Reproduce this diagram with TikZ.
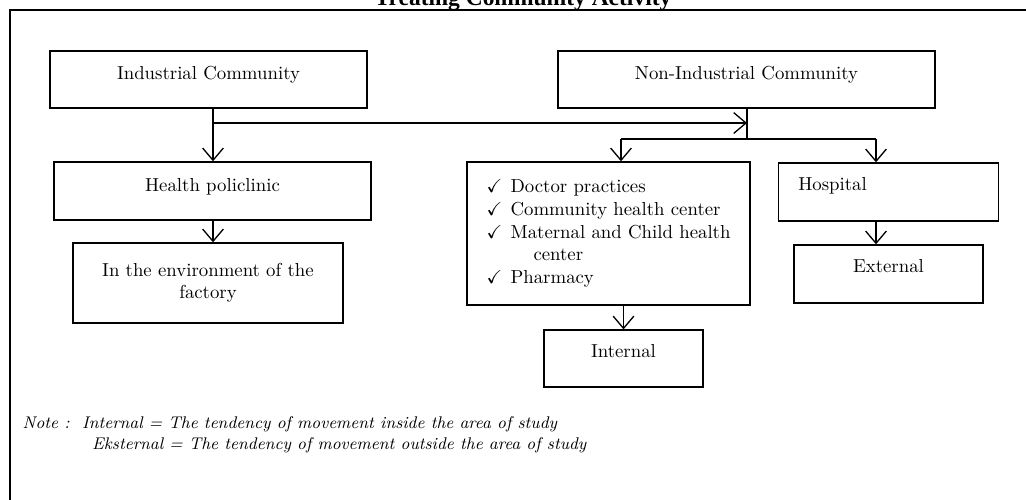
\documentclass[tikz,border=0pt]{standalone}
\usepackage{fontspec}
\usepackage{amssymb}
\newfontfamily\titlefont{Liberation Serif}
\usetikzlibrary{arrows.meta}

\tikzstyle{block} = [rectangle, draw, line width=0.7pt, text centered, inner sep=0pt]
\tikzstyle{oneline} = [text height=7pt, text depth=7pt]
\tikzstyle{arrow} = [draw, line width=0.7pt, -{Straight Barb[length=6.5pt, width=11pt]}]
\newcommand{\chk}{\makebox[12.8pt][l]{$\checkmark$}}

\begin{document}
\begin{tikzpicture}[x=0.532pt, y=-0.532pt]
\useasboundingbox (0,0) rectangle (1026,499);
\draw[line width=1pt] (10,10) rectangle (1040,515);
\node[anchor=base, font=\titlefont\bfseries\fontsize{12.5}{14}\selectfont] (title) at (523,5) {Treating Community Activity};

\node[block, oneline, minimum width=168.6pt, minimum height=30.3pt] (industrial) at (208.5,79.5) {Industrial Community};
\node[block, oneline, minimum width=200.6pt, minimum height=30.3pt] (non_industrial) at (746.5,79.5) {Non-Industrial Community};

\node[block, oneline, minimum width=168.6pt, minimum height=30.9pt] (policlinic) at (212.5,191) {Health policlinic};
\node[block, align=center, minimum width=143.6pt, minimum height=42.6pt] (factory) at (208,283) {In the environment of the\\factory};

\node[block, align=left, minimum width=150.6pt, minimum height=76.1pt] (practices) at (608.5,233.5) {\chk Doctor practices\\
\chk Community health center\\
\chk Maternal and Child health\\
\hspace*{25pt}center\\
\chk Pharmacy};
\node[block, oneline, text depth=8.5pt, align=left, text width=96pt, inner xsep=10.6pt, minimum height=30.9pt] (hospital) at (888.5,192) {Hospital};
\node[block, oneline, text depth=8.5pt, minimum width=84.6pt, minimum height=30.3pt] (internal) at (623.5,358.5) {Internal};
\node[block, oneline, text depth=8.5pt, minimum width=100.5pt, minimum height=30.9pt] (external) at (888.5,274) {External};

% branch points
\coordinate (split) at (213,123);
\coordinate (join) at (747,123);
\coordinate (fork) at (747,139);
\coordinate (fork_left) at (621,139);
\coordinate (fork_right) at (876,139);

\path[arrow] (industrial.south -| split)--(policlinic.north -| split);
\path[arrow] (split)--(join);
\draw[line width=0.7pt] (non_industrial.south -| join)--(fork);
\draw[line width=0.7pt] (fork_left)--(fork_right);
\path[arrow] (fork_left)--(practices.north -| fork_left);
\path[arrow] (fork_right)--(hospital.north -| fork_right);
\path[arrow] (policlinic.south -| split)--(factory.north -| split);
\path[arrow] (practices.south -| internal)--(internal.north);
\path[arrow] (hospital.south -| fork_right)--(external.north -| fork_right);

\node[anchor=west, align=left, font=\itshape\small] (note) at (16,435) {Note :\ \ Internal = The tendency of movement inside the area of study\\
\hspace*{37pt}Eksternal = The tendency of movement outside the area of study};
\end{tikzpicture}
\end{document}
